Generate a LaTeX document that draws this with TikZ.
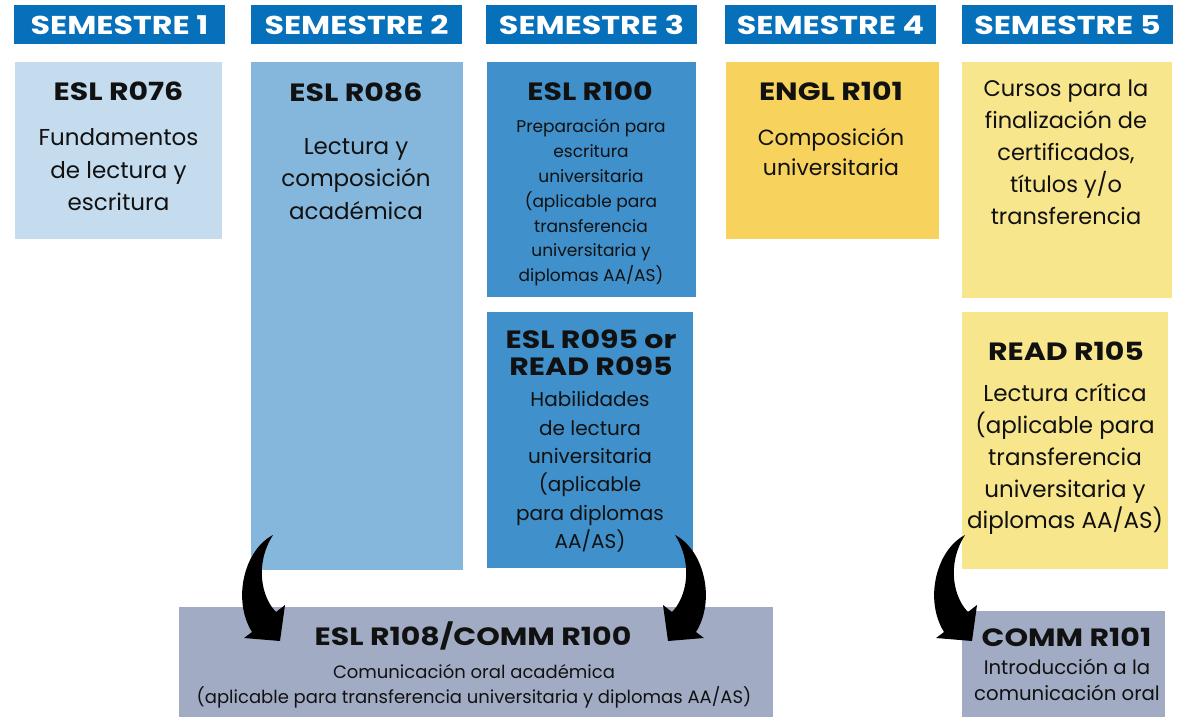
\documentclass[tikz,border=0pt]{standalone}
\usepackage{fontspec}
\setmainfont{Poppins}
\newfontfamily\widefont[FakeStretch=1.2]{Poppins}
\newfontfamily\hdrfont[FakeStretch=1.23]{Poppins}
\definecolor{hdr}{RGB}{7,112,186}
\definecolor{cA}{RGB}{197,220,239}
\definecolor{cB}{RGB}{133,183,221}
\definecolor{cC}{RGB}{63,144,203}
\definecolor{cEngl}{RGB}{247,211,94}
\definecolor{cYel}{RGB}{248,230,140}
\definecolor{cGray}{RGB}{161,172,196}
\definecolor{ink}{RGB}{17,17,17}
\newcommand{\firststrut}{\rule{0pt}{1em}}
\tikzset{
  box/.style={rectangle, inner sep=0pt, outer sep=0pt, anchor=north west, draw=none},
  hdrbox/.style={box, fill=hdr, minimum width=211pt, minimum height=39pt},
  hdrtxt/.style={anchor=base, inner sep=0pt, text=white, font=\hdrfont\bfseries\fontsize{25.8}{29}\selectfont},
  ttl/.style={anchor=base, inner sep=0pt, text=ink, font=\widefont\bfseries\fontsize{25}{27}\selectfont},
  ttlml/.style={anchor=north, inner sep=0pt, text=ink, align=center},
  body/.style={anchor=north, inner sep=0pt, text=ink, align=center},
  arrowfill/.style={fill=black, draw=none}
}
\begin{document}
\begin{tikzpicture}[x=1pt,y=-1pt]
\path[use as bounding box, fill=white] (0,0) rectangle (1188,717);

% headers
\node[hdrbox] (h1) at (14,5) {};
\node[hdrbox] (h2) at (251,5) {};
\node[hdrbox] (h3) at (486,5) {};
\node[hdrbox] (h4) at (725,5) {};
\node[hdrbox] (h5) at (962,5) {};
\node[hdrtxt] (h1t) at (119.5,34.5) {SEMESTRE 1};
\node[hdrtxt] (h2t) at (356.5,34.5) {SEMESTRE 2};
\node[hdrtxt] (h3t) at (591.5,34.5) {SEMESTRE 3};
\node[hdrtxt] (h4t) at (830.5,34.5) {SEMESTRE 4};
\node[hdrtxt] (h5t) at (1067.5,34.5) {SEMESTRE 5};

% boxes
\node[box, fill=cA, minimum width=207pt, minimum height=177pt] (b076) at (15,62) {};
\node[box, fill=cB, minimum width=212pt, minimum height=508pt] (b086) at (251,62) {};
\node[box, fill=cC, minimum width=209pt, minimum height=235pt] (b100) at (487,62) {};
\node[box, fill=cC, minimum width=206pt, minimum height=256pt] (b095) at (487,312) {};
\node[box, fill=cEngl, minimum width=213pt, minimum height=177pt] (engl) at (726,62) {};
\node[box, fill=cYel, minimum width=210pt, minimum height=236pt] (cursos) at (962,62) {};
\node[box, fill=cYel, minimum width=206pt, minimum height=257pt] (b105) at (962,312) {};
\node[box, fill=cGray, minimum width=594pt, minimum height=110pt] (b108) at (179,607) {};
\node[box, fill=cGray, minimum width=203pt, minimum height=106pt] (comm) at (962,611) {};

% texts
\node[ttl] (t076) at (118.5,100) {ESL R076};
\node[body, font=\fontsize{23}{32.5}\selectfont] (d076) at (118.5,122.7) {\firststrut Fundamentos\\de lectura y\\escritura};

\node[ttl] (t086) at (356,101) {ESL R086};
\node[body, font=\fontsize{23}{32.5}\selectfont] (d086) at (356,131) {\firststrut Lectura y\\composición\\académica};

\node[ttl] (t100) at (590,100) {ESL R100};
\node[body, font=\fontsize{17}{24.8}\selectfont] (d100) at (591,115.7) {\firststrut Preparación para\\escritura\\universitaria\\(aplicable para\\transferencia\\universitaria y\\diplomas AA/AS)};

\node[ttlml, font=\widefont\bfseries\fontsize{25}{27}\selectfont] (t095) at (591,323.3) {\firststrut ESL R095 or\\READ R095};
\node[body, font=\fontsize{20}{28.3}\selectfont] (d095) at (590,386.7) {\firststrut Habilidades\\de lectura\\universitaria\\(aplicable\\para diplomas\\AA/AS)};

\node[ttl] (tengl) at (831,100.7) {ENGL R101};
\node[body, font=\fontsize{22}{30}\selectfont] (dengl) at (831,123) {\firststrut Composición\\universitaria};

\node[body, font=\fontsize{22.5}{32}\selectfont] (dcursos) at (1066,74.2) {\firststrut Cursos para la\\finalización de\\certificados,\\títulos y/o\\transferencia};

\node[ttl] (t105) at (1066,360) {READ R105};
\node[body, font=\fontsize{23}{31.7}\selectfont] (d105) at (1065,378.7) {\firststrut Lectura crítica\\(aplicable para\\transferencia\\universitaria y\\diplomas AA/AS)};

\node[ttl] (t108) at (473,645.7) {ESL R108/COMM R100};
\node[body, font=\fontsize{18}{25}\selectfont] (d108) at (474,660.3) {\firststrut Comunicación oral académica\\(aplicable para transferencia universitaria y diplomas AA/AS)};

\node[ttl] (tcomm) at (1066.5,646) {COMM R101};
\node[body, font=\fontsize{19.7}{26}\selectfont] (dcomm) at (1067,654.3) {\firststrut Introducción a la\\comunicación oral};

% arrows
\fill[arrowfill] (273,535) .. controls (244,550) and (232,600) .. (252,632) -- (244,638) -- (280,641) -- (285,605) -- (276,612) .. controls (262,598) and (254,565) .. (273,535) -- cycle;
\fill[arrowfill] (675,535) .. controls (704,550) and (716,600) .. (696,632) -- (704,638) -- (668,641) -- (663,605) -- (672,612) .. controls (686,598) and (694,565) .. (675,535) -- cycle;
\fill[arrowfill] (965,535) .. controls (936,550) and (924,600) .. (944,632) -- (936,638) -- (972,641) -- (977,605) -- (968,612) .. controls (954,598) and (946,565) .. (965,535) -- cycle;
\end{tikzpicture}
\end{document}
